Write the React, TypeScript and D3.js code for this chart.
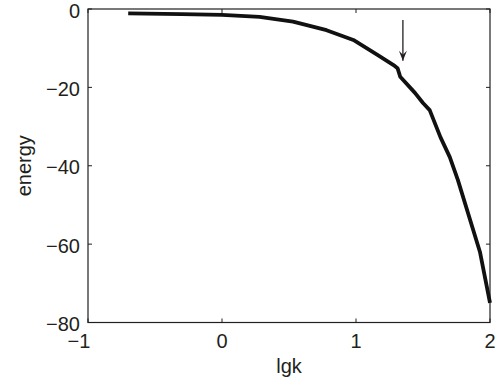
import { useEffect, useRef } from "react";
import * as d3 from "d3";

// curve (lgk, energy)
const lgk = [-0.7, -0.3, 0, 0.28, 0.53, 0.78, 0.98, 1.16, 1.28, 1.31, 1.33, 1.44, 1.5, 1.55, 1.63, 1.7, 1.76, 1.925, 2.0];
const energy = [-1.1, -1.3, -1.5, -2.0, -3.2, -5.4, -7.9, -11.7, -14.3, -15.1, -17.3, -21.4, -24.0, -25.8, -32.7, -37.8, -43.6, -62, -75];
const xTicks = [-1, 0, 1, 2];
const yTicks = [-80, -60, -40, -20, 0];
// arrow marking the kink
const arrowX = 1.35;
const arrowFrom = -2.8;
const arrowTo = -13.2;

const W = 497;
const H = 385;
const margin = { left: 88, right: 7, top: 9, bottom: 62.5 };

const App = () => {
  const svgRef = useRef<SVGSVGElement>(null);

  useEffect(() => {
    const svg = d3.select(svgRef.current);
    svg.selectAll("*").remove();

    const x = d3.scaleLinear().domain([-1, 2]).range([margin.left, W - margin.right]);
    const y = d3.scaleLinear().domain([-80, 0]).range([H - margin.bottom, margin.top]);
    const font = "'Liberation Sans', Arial, Helvetica, sans-serif";
    const ink = "#231f20";
    const fs = 20;

    // frame
    svg.append("rect")
      .attr("x", x(-1)).attr("y", y(0))
      .attr("width", x(2) - x(-1)).attr("height", y(-80) - y(0))
      .attr("fill", "none").attr("stroke", ink).attr("stroke-width", 1.2);

    // ticks inside, on all four sides
    const tl = 4;
    xTicks.forEach((t) => {
      svg.append("line").attr("x1", x(t)).attr("x2", x(t))
        .attr("y1", y(-80)).attr("y2", y(-80) - tl).attr("stroke", ink);
      svg.append("line").attr("x1", x(t)).attr("x2", x(t))
        .attr("y1", y(0)).attr("y2", y(0) + tl).attr("stroke", ink);
      svg.append("text")
        .attr("x", x(t) + (t < 0 ? -9 : 0)).attr("y", y(-80) + 25.5)
        .attr("text-anchor", "middle")
        .attr("font-family", font).attr("font-size", fs).attr("fill", ink)
        .text(t < 0 ? "\u2212" + Math.abs(t) : String(t));
    });
    yTicks.forEach((t) => {
      svg.append("line").attr("x1", x(-1)).attr("x2", x(-1) + tl)
        .attr("y1", y(t)).attr("y2", y(t)).attr("stroke", ink);
      svg.append("line").attr("x1", x(2)).attr("x2", x(2) - tl)
        .attr("y1", y(t)).attr("y2", y(t)).attr("stroke", ink);
      svg.append("text")
        .attr("x", x(-1) - 8).attr("y", y(t) + 8.5)
        .attr("text-anchor", "end")
        .attr("font-family", font).attr("font-size", fs).attr("fill", ink)
        .text(t < 0 ? "\u2212" + Math.abs(t) : String(t));
    });

    // axis labels
    svg.append("text")
      .attr("x", x(0.5)).attr("y", H - 12)
      .attr("text-anchor", "middle")
      .attr("font-family", font).attr("font-size", fs).attr("fill", ink)
      .text("lgk");
    svg.append("text")
      .attr("transform", `translate(31,${y(-40)}) rotate(-90)`)
      .attr("text-anchor", "middle")
      .attr("font-family", font).attr("font-size", fs).attr("fill", ink)
      .text("energy");

    // curve
    const pts: [number, number][] = lgk.map((d, i) => [d, energy[i]]);
    const line = d3.line<[number, number]>().x((d) => x(d[0])).y((d) => y(d[1]));
    svg.append("path")
      .attr("d", line(pts))
      .attr("fill", "none")
      .attr("stroke", "#111")
      .attr("stroke-width", 3.8)
      .attr("stroke-linejoin", "round");

    // arrow
    const ax = x(arrowX);
    const ay0 = y(arrowFrom);
    const ay1 = y(arrowTo);
    svg.append("line").attr("x1", ax).attr("x2", ax)
      .attr("y1", ay0).attr("y2", ay1).attr("stroke", ink).attr("stroke-width", 1.3);
    svg.append("path")
      .attr("d", `M${ax - 4},${ay1 - 10}L${ax},${ay1}L${ax + 4},${ay1 - 10}L${ax},${ay1 - 6}Z`)
      .attr("fill", ink);
  }, []);

  return (
    <svg
      ref={svgRef}
      width={W}
      height={H}
      style={{ position: "absolute", left: 0, top: 0, background: "#fff" }}
    />
  );
};

export default App;
